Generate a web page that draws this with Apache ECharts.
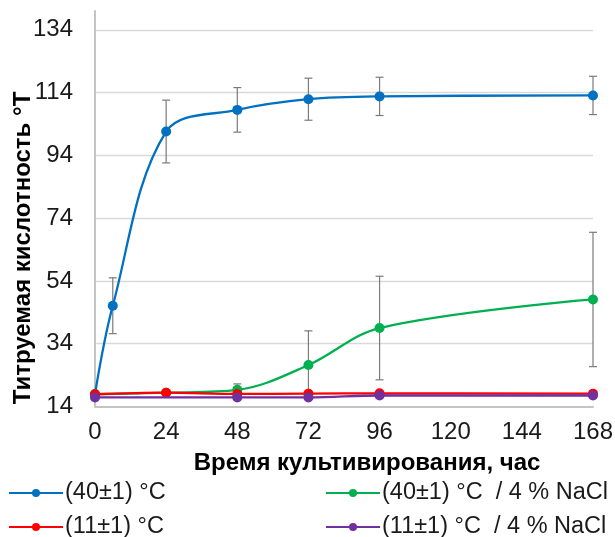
<!DOCTYPE html>
<html>
<head>
<meta charset="utf-8">
<script src="https://cdn.jsdelivr.net/npm/echarts@6/dist/echarts.min.js"></script>
<style>
  html, body { margin: 0; padding: 0; background: #fff; }
  #chart { width: 615px; height: 537px; }
</style>
</head>
<body>
<div id="chart"></div>
<script>
// Titratable acidity (°T) over cultivation time, four culture conditions
const xTicks = [0, 24, 48, 72, 96, 120, 144, 168];
const yTicks = [14, 34, 54, 74, 94, 114, 134];

const warmHours = [0, 6, 24, 48, 72, 96, 168];
const warmAcidity = [18.0, 46.1, 101.6, 108.5, 111.9, 112.8, 113.1];
const warmError = [0, 8.9, 10.0, 7.1, 6.7, 6.1, 6.1];

const warmSaltHours = [0, 24, 48, 72, 96, 168];
const warmSaltAcidity = [17.9, 18.4, 19.3, 27.2, 39.0, 48.1];
const warmSaltError = [0, 0, 1.9, 10.9, 16.5, 21.4];

const coldHours = [0, 24, 48, 72, 96, 168];
const coldAcidity = [17.9, 18.4, 18.0, 18.1, 18.2, 18.1];

const coldSaltHours = [0, 48, 72, 96, 168];
const coldSaltAcidity = [16.9, 16.9, 16.9, 17.5, 17.5];

const seriesNames = ['(40±1) °C', '(40±1) °C  / 4 % NaCl', '(11±1) °C', '(11±1) °C  / 4 % NaCl'];
const seriesColors = ['#0070C0', '#00B050', '#FF0000', '#7030A0'];

const xTitle = 'Время культивирования, час';
const yTitle = 'Титруемая кислотность °T';

function pairs(xs, ys) { return xs.map((x, i) => [x, ys[i]]); }
function errorRows(xs, ys, es) {
  const rows = [];
  xs.forEach((x, i) => { if (es[i] > 0) rows.push([x, ys[i] - es[i], ys[i] + es[i]]); });
  return rows;
}

function renderErrorBar(params, api) {
  const x = api.value(0);
  const lo = api.coord([x, api.value(1)]);
  const hi = api.coord([x, api.value(2)]);
  const half = 4;
  const style = { stroke: '#7a7a7a', lineWidth: 1.2 };
  return {
    type: 'group',
    children: [
      { type: 'line', shape: { x1: hi[0], y1: hi[1], x2: lo[0], y2: lo[1] }, style: style },
      { type: 'line', shape: { x1: hi[0] - half, y1: hi[1], x2: hi[0] + half, y2: hi[1] }, style: style },
      { type: 'line', shape: { x1: lo[0] - half, y1: lo[1], x2: lo[0] + half, y2: lo[1] }, style: style }
    ]
  };
}

function lineSeries(idx, data) {
  return {
    name: seriesNames[idx],
    type: 'line',
    data: data,
    smooth: 0.35,
    symbol: 'circle',
    symbolSize: 10,
    showSymbol: true,
    color: seriesColors[idx],
    lineStyle: { width: 2.3, color: seriesColors[idx] },
    itemStyle: { color: seriesColors[idx] },
    z: 3 + idx,
    animation: false
  };
}

const chart = echarts.init(document.getElementById('chart'), null, { renderer: 'canvas' });

const textColor = '#1a1a1a';
const fontFamily = 'Liberation Sans, Arial, sans-serif';
const legendText = { fontSize: 23.5, color: textColor, lineHeight: 26, fontFamily: fontFamily, padding: [0, 0, 0, -3] };

chart.setOption({
  animation: false,
  backgroundColor: '#ffffff',
  textStyle: { fontFamily: fontFamily },
  grid: { left: 95, right: 22, top: 11, bottom: 130.5, containLabel: false, outerBoundsMode: 'none' },
  xAxis: {
    type: 'value',
    min: xTicks[0],
    max: xTicks[xTicks.length - 1],
    interval: xTicks[1] - xTicks[0],
    axisLine: { show: true, lineStyle: { color: '#c4c4c4', width: 2 } },
    axisTick: { show: false },
    splitLine: { show: false },
    axisLabel: { fontSize: 24, color: textColor, margin: 14, fontFamily: fontFamily, hideOverlap: false }
  },
  yAxis: {
    type: 'value',
    min: yTicks[0],
    max: 140,
    interval: yTicks[1] - yTicks[0],
    axisLine: { show: true, lineStyle: { color: '#c4c4c4', width: 2 } },
    axisTick: { show: false },
    splitLine: { show: true, showMinLine: false, showMaxLine: false, lineStyle: { color: '#d9d9d9', width: 1.3 } },
    axisLabel: { fontSize: 24, color: textColor, margin: 22, showMaxLabel: false, fontFamily: fontFamily, hideOverlap: false }
  },
  legend: [
    {
      data: [seriesNames[0], seriesNames[2]],
      orient: 'vertical',
      left: 8,
      top: 480,
      height: 80,
      padding: 0,
      itemWidth: 54,
      itemHeight: 10,
      itemGap: 8,
      textStyle: legendText
    },
    {
      data: [seriesNames[1], seriesNames[3]],
      orient: 'vertical',
      left: 325,
      top: 480,
      height: 80,
      padding: 0,
      itemWidth: 54,
      itemHeight: 10,
      itemGap: 8,
      textStyle: legendText
    }
  ],
  graphic: [
    {
      type: 'text',
      x: 23,
      y: 248,
      rotation: Math.PI / 2,
      style: {
        text: yTitle,
        fontSize: 24,
        fontWeight: 'bold',
        fontFamily: fontFamily,
        fill: '#000',
        align: 'center',
        verticalAlign: 'middle'
      }
    },
    {
      type: 'text',
      x: 367,
      y: 463,
      style: {
        text: xTitle,
        fontSize: 24,
        fontWeight: 'bold',
        fontFamily: fontFamily,
        fill: '#000',
        align: 'center',
        verticalAlign: 'middle'
      }
    }
  ],
  series: [
    {
      type: 'custom',
      renderItem: renderErrorBar,
      data: errorRows(warmHours, warmAcidity, warmError),
      encode: { x: 0, y: [1, 2] },
      z: 2,
      silent: true
    },
    {
      type: 'custom',
      renderItem: renderErrorBar,
      data: errorRows(warmSaltHours, warmSaltAcidity, warmSaltError),
      encode: { x: 0, y: [1, 2] },
      z: 2,
      silent: true
    },
    lineSeries(0, pairs(warmHours, warmAcidity)),
    lineSeries(1, pairs(warmSaltHours, warmSaltAcidity)),
    lineSeries(2, pairs(coldHours, coldAcidity)),
    lineSeries(3, pairs(coldSaltHours, coldSaltAcidity))
  ]
});
</script>
</body>
</html>
